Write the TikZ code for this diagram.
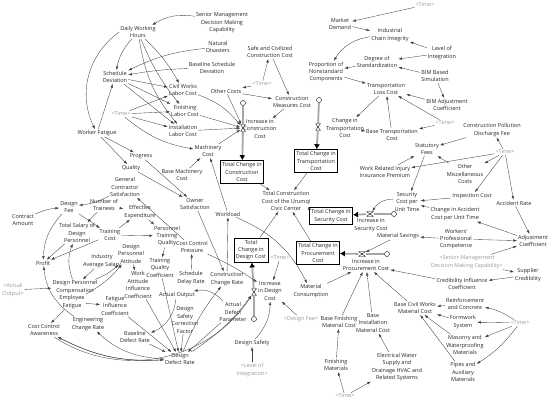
\documentclass[tikz,border=0pt]{standalone}
\usepackage{fontspec}
\setmainfont{Open Sans}
\usetikzlibrary{arrows.meta}
\tikzset{var/.style={font=\fontsize{5.5}{7.4}\selectfont, align=center, inner sep=1pt, text=black!85}}
\tikzset{shadow/.style={var, text=black!40}}
\tikzset{stock/.style={var, draw, line width=0.5pt, inner sep=2pt}}
\tikzset{link/.style={-{Latex[length=3.6pt,width=2.6pt]}, line width=0.35pt, draw=black!75}}
\tikzset{pipeline/.style={line width=1.8pt, draw=black!35}}
\tikzset{pipe/.style={pipeline, -{Latex[length=5pt,width=6pt,color=black]}}}
\tikzset{valve/.style={minimum width=5pt, minimum height=7pt, inner sep=0pt, path picture={\draw[line width=0.4pt, fill=white] (path picture bounding box.north west) -- (path picture bounding box.south east) -- (path picture bounding box.south west) -- (path picture bounding box.north east) -- cycle;}}}
\tikzset{sink/.style={circle, draw, fill=white, line width=0.4pt, minimum size=5pt, inner sep=0pt}}

\begin{document}
\begin{tikzpicture}[x=1pt,y=1pt]
\useasboundingbox (0,0) rectangle (550,-402);

\node[var] (dwh) at (138,-32) {Daily Working\\Hours};
\node[var] (smd) at (222,-23) {Senior Management\\Decision Making\\Capability};
\node[var] (nd) at (218,-47) {Natural\\Disasters};
\node[var] (bsd) at (212,-68) {Baseline Schedule\\Deviation};
\node[var] (sd) at (115,-77) {Schedule\\Deviation};
\node[shadow] (time1) at (121,-114) {<Time>};
\node[var] (wf) at (97,-133) {Worker Fatigue};
\node[var] (cwl) at (183,-90) {Civil Works\\Labor Cost};
\node[var] (fl) at (185,-111) {Finishing\\Labor Cost};
\node[var] (il) at (183,-131) {Installation\\Labor Cost};
\node[var] (scc) at (270,-52) {Safe and Civilized\\Construction Cost};
\node[shadow] (time2) at (262,-84) {<Time>};
\node[var] (oc) at (226,-91) {Other Costs};
\node[var] (cmc) at (292,-102) {Construction\\Measures Cost};
\node[var] (icc) at (260,-129) {Increase in\\Construction\\Cost};
\node[stock] (tcc) at (242,-172) {Total Change in\\Construction\\Cost};
\node[var] (mc) at (208,-151) {Machinery\\Cost};
\node[var] (bmc) at (182,-175) {Base Machinery\\Cost};
\node[var] (prog) at (141,-156) {Progress};
\node[var] (qual) at (131,-168) {Quality};
\node[var] (os) at (195,-204) {Owner\\Satisfaction};
\node[var] (gcs) at (125,-187) {General\\Contractor\\Satisfaction};
\node[var] (df) at (69,-207) {Design\\Fee};
\node[var] (ca) at (23,-220) {Contract\\Amount};
\node[var] (not) at (104,-205) {Number of\\Trainees};
\node[var] (ee) at (140,-212) {Effective\\Expenditure};
\node[var] (tsd) at (77,-233) {Total Salary of\\Design\\Personnel};
\node[var] (tc) at (110,-235) {Training\\Cost};
\node[var] (profit) at (43,-263) {Profit};
\node[var] (ias) at (102,-261) {Industry\\Average Salary};
\node[var] (dpa) at (131,-254) {Design\\Personnel\\Attitude};
\node[var] (ptq) at (167,-236) {Personnel\\Training\\Quality};
\node[var] (ccp) at (192,-247) {Cost Control\\Pressure};
\node[var] (tqc) at (160,-268) {Training\\Quality\\Coefficient};
\node[var] (wl) at (228,-214) {Workload};
\node[stock] (tcd) at (251,-250) {Total\\Change in\\Design Cost};
\node[shadow] (time3) at (280,-258) {<Time>};
\node[stock] (tct) at (316,-161) {Total Change in\\Transportation\\Cost};
\node[var] (tccuc) at (286,-201) {Total Construction\\Cost of the Urumqi\\Civic Center};
\node[stock] (tcs) at (331,-216) {Total Change in\\Security Cost};
\node[stock] (tcp) at (318,-253) {Total Change in\\Procurement\\Cost};
\node[shadow] (ao) at (13,-290) {<Actual\\Output>};
\node[var] (dpc) at (75,-287) {Design Personnel\\Compensation};
\node[var] (ef) at (72,-302) {Employee\\Fatigue};
\node[var] (fic) at (115,-306) {Fatigue\\Influence\\Coefficient};
\node[var] (cca) at (44,-330) {Cost Control\\Awareness};
\node[var] (ecr) at (88,-324) {Engineering\\Change Rate};
\node[var] (waic) at (138,-285) {Work\\Attitude\\Influence\\Coefficient};
\node[var] (bdr) at (135,-337) {Baseline\\Defect Rate};
\node[var] (ddr) at (180,-359) {Design\\Defect Rate};
\node[var] (sdr) at (191,-278) {Schedule\\Delay Rate};
\node[var] (ccr) at (227,-279) {Construction\\Change Rate};
\node[var] (idc) at (270,-291) {Increase\\in Design\\Cost};
\node[var] (aout) at (177,-295) {Actual Output};
\node[var] (adp) at (233,-312) {Actual\\Defect\\Parameter};
\node[var] (dscf) at (185,-320) {Design\\Safety\\Correction\\Factor};
\node[var] (ds) at (252,-343) {Design Safety};
\node[shadow] (loi2) at (252,-370) {<Level of\\Integration>};
\node[var] (mcons) at (311,-291) {Material\\Consumption};
\node[shadow] (dfee2) at (301,-319) {<Design Fee>};
\node[var] (bfmc) at (339,-322) {Base Finishing\\Material Cost};
\node[var] (bimc) at (373,-323) {Base\\Installation\\Material Cost};
\node[var] (fm) at (336,-365) {Finishing\\Materials};
\node[var] (ews) at (397,-367) {Electrical Water\\Supply and\\Drainage HVAC and\\Related Systems};
\node[shadow] (time4) at (345,-396) {<Time>};
\node[var] (md) at (340,-24) {Market\\Demand};
\node[var] (ici) at (390,-35) {Industrial\\Chain Integrity};
\node[shadow] (time5) at (425,-5) {<Time>};
\node[var] (dos) at (377,-62) {Degree of\\Standardization};
\node[var] (pnc) at (326,-72) {Proportion of\\Nonstandard\\Components};
\node[var] (tlc) at (386,-89) {Transportation\\Loss Cost};
\node[var] (ctc) at (345,-128) {Change in\\Transportation\\Cost};
\node[var] (btc) at (392,-135) {Base Transportation\\Cost};
\node[var] (loi) at (442,-53) {Level of\\Integration};
\node[var] (bim) at (435,-76) {BIM Based\\Simulation};
\node[var] (bimac) at (447,-105) {BIM Adjustment\\Coefficient};
\node[shadow] (time6) at (445,-123) {<Time>};
\node[var] (cpdf) at (492,-130) {Construction Pollution\\Discharge Fee};
\node[var] (sf) at (427,-149) {Statutory\\Fees};
\node[shadow] (time7) at (505,-152) {<Time>};
\node[var] (wri) at (385,-172) {Work Related Injury\\Insurance Premium};
\node[var] (omc) at (465,-174) {Other\\Miscellaneous\\Costs};
\node[var] (scput) at (407,-202) {Security\\Cost per\\Unit Time};
\node[var] (ic) at (472,-196) {Inspection Cost};
\node[var] (ar) at (514,-203) {Accident Rate};
\node[var] (cac) at (455,-214) {Change in Accident\\Cost per Unit Time};
\node[var] (isc) at (371,-225) {Increase in\\Security Cost};
\node[var] (ms) at (398,-236) {Material Savings};
\node[var] (wpc) at (456,-239) {Workers'\\Professional\\Competence};
\node[var] (adj) at (533,-241) {Adjustment\\Coefficient};
\node[shadow] (smd2) at (467,-262) {<Senior Management\\Decision Making Capability>};
\node[var] (ipc) at (366,-265) {Increase in\\Procurement Cost};
\node[var] (sc) at (528,-275) {Supplier\\Credibility};
\node[var] (cic) at (462,-284) {Credibility Influence\\Coefficient};
\node[var] (rc) at (465,-304) {Reinforcement\\and Concrete};
\node[var] (bcw) at (415,-308) {Base Civil Works\\Material Cost};
\node[var] (fs) at (463,-322) {Formwork\\System};
\node[shadow] (time8) at (520,-323) {<Time>};
\node[var] (mwm) at (465,-345) {Masonry and\\Waterproofing\\Materials};
\node[var] (pam) at (463,-372) {Pipes and\\Auxiliary\\Materials};

\node[sink] (cl1) at (243,-103) {};
\node[valve] (vcc) at (243,-128) {};
\node[sink] (cl2) at (319,-100) {};
\node[valve] (vtc) at (318,-127) {};
\node[sink] (cl3) at (394,-214) {};
\node[valve, rotate=90] (vsc) at (370,-214) {};
\node[sink] (cl4) at (387,-254) {};
\node[valve, rotate=90] (vpc) at (362,-254) {};
\node[sink] (cl5) at (254,-319) {};
\node[valve] (vdc) at (254,-292) {};

\draw[pipeline] (cl1) -- (vcc);
\draw[pipe] (vcc) -- (tcc);
\draw[pipeline] (cl2) -- (vtc);
\draw[pipe] (vtc) -- (tct);
\draw[pipeline] (cl3) -- (vsc);
\draw[pipe] (vsc) -- (tcs);
\draw[pipeline] (cl4) -- (vpc);
\draw[pipe] (vpc) -- (tcp);
\draw[pipeline] (cl5) -- (vdc);
\draw[pipe] (vdc) -- (tcd);

\draw[link] (smd) to[bend right=20] (dwh);
\draw[link] (dwh.west) to[bend right=40] (wf);
\draw[link] (wf) -- (sd);
\draw[link] (nd) to[bend right=10] (sd);
\draw[link] (bsd) to[bend right=4] (sd);
\draw[link] (dwh) to[bend right=15] (sd);
\draw[link] (dwh) to[bend left=8] (cwl);
\draw[link] (dwh) to[bend right=8] (fl);
\draw[link] (dwh) to[bend right=15] (il);
\draw[link] (sd) -- (cwl);
\draw[link] (sd) -- (fl);
\draw[link] (sd) -- (il);
\draw[link] (time1) -- (cwl);
\draw[link] (time1) -- (fl);
\draw[link] (time1) -- (il);
\draw[link] (time1) to[bend right=15] (mc);
\draw[link] (cwl) to[bend left=15] (vcc);
\draw[link] (fl) -- (vcc);
\draw[link] (il) -- (vcc);
\draw[link] (oc) -- (vcc);
\draw[link] (time2) -- (oc);
\draw[link] (time2) -- (scc);
\draw[link] (scc) -- (cmc);
\draw[link] (oc) -- (cmc);
\draw[link] (cmc) -- (icc);
\draw[link] (mc) -- (vcc);
\draw[link] (bmc) -- (mc);
\draw[link] (wl) -- (mc);
\draw[link] (wf) -- (prog);
\draw[link] (wf) -- (qual);
\draw[link] (prog) -- (os);
\draw[link] (qual) -- (os);
\draw[link] (ccp) -- (gcs);
\draw[link] (gcs) to[bend left=10] (df);
\draw[link] (ca) to[bend left=10] (df);
\draw[link] (df) -- (tc);
\draw[link] (df) to[bend right=20] (profit);
\draw[link] (not) -- (ee);
\draw[link] (not) -- (tsd);
\draw[link] (tc) -- (ee);
\draw[link] (tc) -- (profit);
\draw[link] (tsd) -- (profit);
\draw[link] (ee) -- (ptq);
\draw[link] (tc) -- (ptq);
\draw[link] (ptq) -- (tqc);
\draw[link] (tqc) -- (ddr);
\draw[link] (sdr) -- (ccp);
\draw[link] (os) -- (ccr);
\draw[link] (ccr) -- (wl);
\draw[link] (ddr) to[bend left=8] (ccr);
\draw[link] (wl) to[bend left=20] (mcons);
\draw[link] (ccp) to[bend left=5] (idc);
\draw[link] (ef) -- (fic);
\draw[link] (ef) -- (cca);
\draw[link] (fic) -- (ddr);
\draw[link] (waic) -- (ddr);
\draw[link] (bdr) -- (ddr);
\draw[link] (dpa) -- (waic);
\draw[link] (dpc) to[bend right=10] (dpa);
\draw[link] (ef) to[bend right=10] (dpa);
\draw[link] (ias) -- (dpc);
\draw[link] (ao) -- (dpc);
\draw[link] (dpc) to[bend left=20] (tsd);
\draw[link] (ecr) to[bend left=25] (profit);
\draw[link] (ddr) to[bend left=20] (ecr);
\draw[link] (ddr) to[bend left=15] (cca);
\draw[link] (cca) to[bend right=15] (ddr);
\draw[link] (cca) to[bend right=45] (vdc);
\draw[link] (ddr) to[bend right=10] (vdc);
\draw[link] (aout) to[bend left=30] (bdr);
\draw[link] (adp) -- (ddr);
\draw[link] (adp) to[bend right=30] (aout);
\draw[link] (dscf) -- (ddr);
\draw[link] (ds) to[bend right=20] (idc);
\draw[link] (loi2) -- (ds);
\draw[link] (dfee2) -- (idc);
\draw[link] (time3) -- (idc);
\draw[link] (tcd) -- (tccuc);
\draw[link] (tcc) -- (tccuc);
\draw[link] (tct) -- (tccuc);
\draw[link] (tcs) -- (tccuc);
\draw[link] (tcp) -- (tccuc);

\draw[link] (time5) -- (md);
\draw[link] (md) -- (ici);
\draw[link] (ici) to[bend right=25] (pnc);
\draw[link] (loi) -- (ici);
\draw[link] (loi) -- (dos);
\draw[link] (bim) -- (dos);
\draw[link] (bim) -- (bimac);
\draw[link] (bimac) -- (tlc);
\draw[link] (time6) -- (tlc);
\draw[link] (dos) -- (pnc);
\draw[link] (pnc) -- (tlc);
\draw[link] (tlc) -- (ctc);
\draw[link] (btc) -- (ctc);
\draw[link] (time6) -- (btc);
\draw[link] (btc) -- (tlc);
\draw[link] (cpdf) -- (sf);
\draw[link] (time7) -- (cpdf);
\draw[link] (time7) -- (wri);
\draw[link] (time7) -- (omc);
\draw[link] (time7) -- (ic);
\draw[link] (time7) -- (ar);
\draw[link] (omc) -- (sf);
\draw[link] (wri) -- (sf);
\draw[link] (sf) -- (scput);
\draw[link] (ic) -- (scput);
\draw[link] (cac) -- (scput);
\draw[link] (ar) -- (adj);
\draw[link] (adj) -- (cac);
\draw[link] (wpc) -- (ms);
\draw[link] (wpc) -- (adj);
\draw[link] (smd2) -- (adj);
\draw[link] (smd2) -- (sc);
\draw[link] (sc) -- (cic);
\draw[link] (cic) -- (ipc);
\draw[link] (scput) to[bend right=30] (vsc);
\draw[link] (ms) -- (vpc);
\draw[link] (bcw) -- (ipc);
\draw[link] (rc) -- (bcw);
\draw[link] (fs) -- (bcw);
\draw[link] (mwm) -- (bcw);
\draw[link] (pam) -- (bcw);
\draw[link] (time8) to[bend right=10] (rc);
\draw[link] (time8) -- (fs);
\draw[link] (time8) -- (mwm);
\draw[link] (time8) to[bend left=10] (pam);
\draw[link] (bfmc) -- (ipc);
\draw[link] (bimc) -- (ipc);
\draw[link] (mcons) -- (ipc);
\draw[link] (fm) -- (bfmc);
\draw[link] (ews) -- (bimc);
\draw[link] (time4) -- (fm);
\draw[link] (time4) -- (ews);

\end{tikzpicture}
\end{document}
